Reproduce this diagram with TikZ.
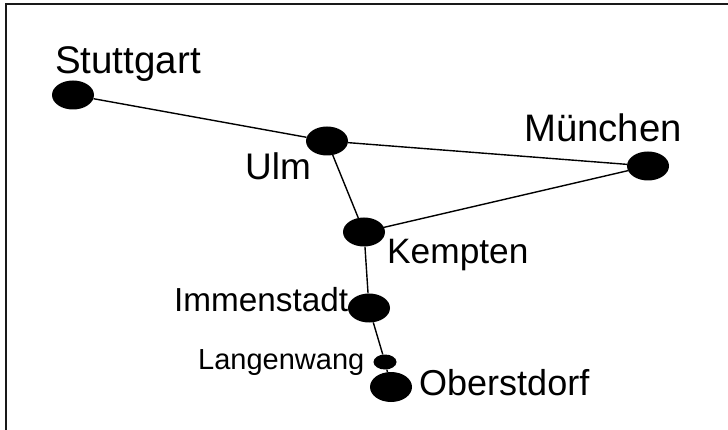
\documentclass[tikz,border=0pt]{standalone}
\usepackage{fontspec}
\setmainfont{Liberation Sans}
\usetikzlibrary{shapes.geometric}
\tikzset{
	city/.style={ellipse, fill=black, inner sep=0pt, minimum width=42pt, minimum height=29pt},
	village/.style={ellipse, fill=black, inner sep=0pt, minimum width=23pt, minimum height=15pt},
	placename/.style={anchor=base west, inner sep=0pt},
	road/.style={line width=1.4pt}
}
\begin{document}
\begin{tikzpicture}[x=1pt, y=-1pt]
				\useasboundingbox (0, 0) rectangle (728, 430);
				\draw[line width=2.2pt, black!90] (6, 430) -- (6, 4) -- (728, 4);
				\node[city] (stuttgart) at (73, 95) {};
				\node[city] (ulm) at (327, 141) {};
				\node[city] (muenchen) at (648, 166) {};
				\node[city] (kempten) at (364, 232) {};
				\node[city] (immenstadt) at (369, 308) {};
				\node[village] (langenwang) at (385, 362) {};
				\node[city, minimum height=30pt] (oberstdorf) at (391, 387) {};
				\foreach \a/\b in {stuttgart/ulm, ulm/muenchen, ulm/kempten, kempten/muenchen, kempten/immenstadt, immenstadt/langenwang, langenwang/oberstdorf}
				\draw[road] (\a) -- (\b);
				\node[placename, font=\fontsize{38.5}{42}\selectfont] (lstuttgart) at (55, 74) {Stuttgart};
				\node[placename, font=\fontsize{37}{42}\selectfont] (lulm) at (245, 180) {Ulm};
				\node[placename, font=\fontsize{38.3}{42}\selectfont] (lmuenchen) at (524, 142) {München};
				\node[placename, font=\fontsize{35.3}{40}\selectfont] (lkempten) at (387, 264) {Kempten};
				\node[placename, font=\fontsize{33.3}{40}\selectfont] (limmenstadt) at (174, 312) {Immenstadt};
				\node[placename, font=\fontsize{29}{32}\selectfont] (llangenwang) at (198, 369) {Langenwang};
				\node[placename, font=\fontsize{36}{40}\selectfont] (loberstdorf) at (419, 395) {Oberstdorf};
			\end{tikzpicture}
\end{document}
